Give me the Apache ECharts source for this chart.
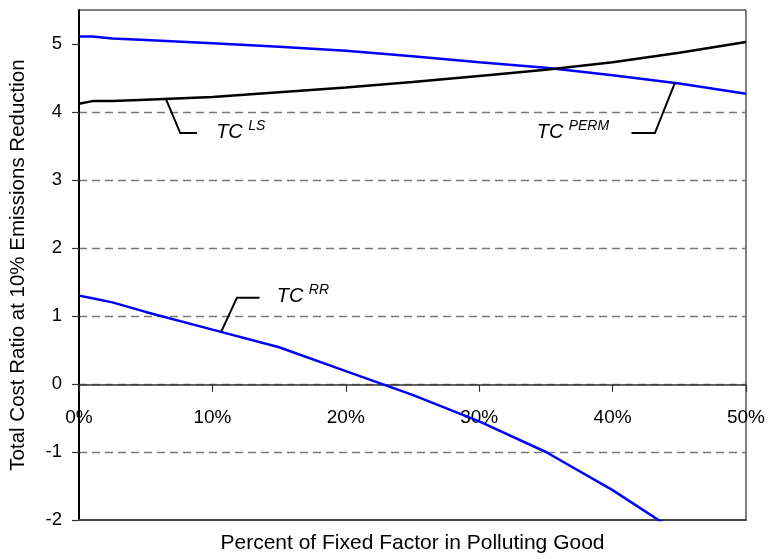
<!DOCTYPE html>
<html>
<head>
<meta charset="utf-8">
<style>
  html, body { margin: 0; padding: 0; background: #fff; }
  #chart { width: 768px; height: 559px; }
</style>
<script src="https://cdn.jsdelivr.net/npm/echarts@6/dist/echarts.min.js"></script>
</head>
<body>
<div id="chart"></div>
<script>
// Percent of the fixed factor in the polluting good (x positions of the curves)
const pctFixed = [0, 1, 2.5, 5, 10, 15, 20, 25, 30, 35, 40, 45, 50];
// Total cost ratio curves at a 10% emissions reduction
const tcPerm = [5.11, 5.11, 5.08, 5.06, 5.01, 4.96, 4.90, 4.82, 4.73, 4.65, 4.54, 4.42, 4.27];
const tcLs   = [4.12, 4.16, 4.16, 4.18, 4.22, 4.29, 4.36, 4.44, 4.53, 4.62, 4.73, 4.87, 5.03];
const tcRr   = [1.30, 1.26, 1.20, 1.06, 0.80, 0.54, 0.19, -0.16, -0.55, -1.00, -1.56, -2.20];

const yTicks = [-2, -1, 0, 1, 2, 3, 4, 5];

// Curve labels: superscript text, leader path (data coords), label anchor (data coords)
const labelSup = ['LS', 'PERM', 'RR'];
const labelLeader = [
  [[6.52, 4.19], [7.59, 3.69], [8.84, 3.69]],
  [[44.67, 4.43], [43.17, 3.69], [41.42, 3.69]],
  [[10.64, 0.76], [11.84, 1.27], [13.53, 1.27]]
];
const labelAt = [[10.28, 3.70], [34.31, 3.70], [14.83, 1.29]];

const FONT = '"Liberation Sans", Arial, Helvetica, sans-serif';

const pairs = (xs, ys) => ys.map((y, i) => [xs[i], y]);

const chart = echarts.init(document.getElementById('chart'), null, { renderer: 'canvas' });

const option = {
  animation: false,
  backgroundColor: '#fff',
  grid: {
    left: 79, top: 10, right: 22, bottom: 39,
    show: true, borderColor: '#000', borderWidth: 1, backgroundColor: 'transparent'
  },
  xAxis: [
    {
      // frame line along the bottom, carrying the axis title
      type: 'value', min: 0, max: 50, interval: 10, position: 'bottom',
      name: 'Percent of Fixed Factor in Polluting Good',
      nameLocation: 'middle', nameGap: 13,
      nameTextStyle: { color: '#000', fontFamily: FONT, fontSize: 21 },
      axisLine: { show: true, onZero: false, lineStyle: { color: '#444', width: 2 } },
      axisTick: { show: false },
      axisLabel: { show: false },
      splitLine: { show: false }
    },
    {
      // percentage scale drawn along the zero line
      type: 'value', min: 0, max: 50, interval: 10, position: 'bottom', offset: 0,
      axisLine: { show: true, onZero: false, lineStyle: { color: '#333', width: 1.5 } },
      axisTick: { show: true, inside: false, length: 7, lineStyle: { color: '#333', width: 1.2 } },
      axisLabel: {
        formatter: '{value}%', color: '#000', fontFamily: FONT, fontSize: 19, margin: 23,
        showMinLabel: true, showMaxLabel: true
      },
      splitLine: { show: false }
    }
  ],
  yAxis: {
    type: 'value', min: -2, max: 5.5, interval: 1,
    name: 'Total Cost Ratio at 10% Emissions Reduction',
    nameLocation: 'middle', nameGap: 50, nameRotate: 90,
    nameTextStyle: { color: '#000', fontFamily: FONT, fontSize: 20.5 },
    axisLine: { show: true, onZero: false, lineStyle: { color: '#000', width: 2 } },
    axisTick: { show: true, length: 7, customValues: yTicks, lineStyle: { color: '#333', width: 1.2 } },
    axisLabel: { customValues: yTicks, color: '#000', fontFamily: FONT, fontSize: 18.5, margin: 17 },
    splitLine: {
      show: true, showMinLine: false, showMaxLine: false,
      lineStyle: { color: '#777', width: 1.3, type: [8, 5] }
    }
  },
  series: [
    {
      name: 'TC PERM', type: 'line', data: pairs(pctFixed, tcPerm),
      showSymbol: false, clip: true,
      lineStyle: { color: '#0000ff', width: 2.5 }, z: 3
    },
    {
      name: 'TC LS', type: 'line', data: pairs(pctFixed, tcLs),
      showSymbol: false, clip: true,
      lineStyle: { color: '#000', width: 2.5 }, z: 4
    },
    {
      name: 'TC RR', type: 'line', data: pairs(pctFixed, tcRr),
      showSymbol: false, clip: true,
      lineStyle: { color: '#0000ff', width: 2.5 }, z: 3
    }
  ]
};
chart.setOption(option);

const toPx = p => chart.convertToPixel({ xAxisIndex: 0, yAxisIndex: 0 }, p);

// Lift the percentage scale from the bottom edge up to y = 0
const yZero = toPx([0, 0])[1];
const yBottom = toPx([0, -2])[1];
chart.setOption({ xAxis: [{}, { offset: -(yBottom - yZero) }] });

// Curve labels with leader lines, placed through the chart's own coordinate system
const graphics = [];
labelSup.forEach((sup, i) => {
  graphics.push({
    type: 'polyline',
    shape: { points: labelLeader[i].map(toPx) },
    style: { stroke: '#000', lineWidth: 2, fill: null },
    z: 10
  });
  const a = toPx(labelAt[i]);
  graphics.push({
    type: 'text', x: a[0], y: a[1],
    style: {
      text: 'TC', fill: '#000', font: 'italic 20px ' + FONT,
      align: 'left', verticalAlign: 'middle'
    },
    z: 10
  });
  graphics.push({
    type: 'text', x: a[0] + 32, y: a[1] - 6,
    style: {
      text: sup, fill: '#000', font: 'italic 14px ' + FONT,
      align: 'left', verticalAlign: 'middle'
    },
    z: 10
  });
});
chart.setOption({ graphic: graphics });
</script>
</body>
</html>
